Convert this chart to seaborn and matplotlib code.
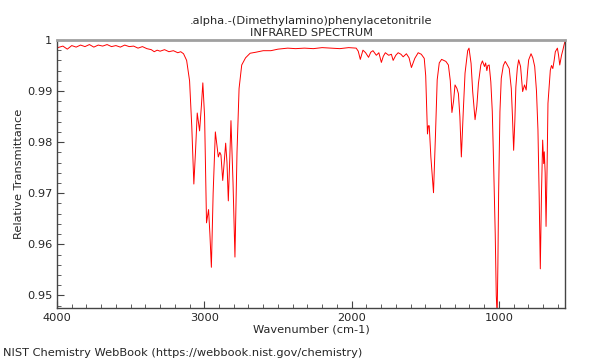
import seaborn as sns
import pandas as pd
import matplotlib.pyplot as plt
from matplotlib.ticker import MultipleLocator, FuncFormatter

sns.set_style("ticks")
plt.rcParams["font.family"] = ["DejaVu Sans"]

# traced spectrum: wavenumber (cm-1) and relative transmittance
wavenumber = [3995, 3960, 3930, 3900, 3870, 3840, 3810, 3780, 3750, 3720, 3690, 3660, 3630, 3600,
              3570, 3540, 3510, 3480, 3450, 3420, 3390, 3360, 3340, 3320, 3300, 3270, 3240, 3210,
              3180, 3160, 3141, 3120, 3100, 3085, 3071, 3060, 3048, 3032, 3020, 3010, 2998, 2985,
              2971, 2962, 2952, 2940, 2925, 2905, 2895, 2887, 2875, 2865, 2855, 2846, 2837, 2828,
              2819, 2805, 2792, 2778, 2764, 2746, 2720, 2689, 2650, 2600, 2548, 2500, 2434, 2380,
              2320, 2260, 2200, 2140, 2080, 2020, 1969, 1955, 1941, 1923, 1905, 1885, 1870, 1855,
              1832, 1815, 1798, 1785, 1771, 1748, 1730, 1718, 1700, 1684, 1665, 1650, 1628, 1610,
              1594, 1571, 1548, 1527, 1507, 1497, 1485, 1479, 1473, 1462, 1444, 1430, 1419, 1405,
              1389, 1375, 1360, 1343, 1330, 1319, 1308, 1298, 1285, 1275, 1265, 1255, 1242, 1230,
              1212, 1203, 1189, 1178, 1162, 1150, 1139, 1123, 1112, 1098, 1090, 1082, 1075, 1066,
              1055, 1045, 1036, 1025, 1018, 1012, 1007, 1002, 993, 984, 970, 957, 945, 930,
              916, 908, 900, 892, 885, 875, 866, 853, 839, 826, 815, 805, 798, 782, 770, 757,
              745, 735, 727, 719, 711, 703, 696, 692, 686, 680, 673, 667, 651, 643, 634, 625,
              617, 603, 595, 587, 575, 566, 558, 549]
transmittance = [0.9985, 0.9988, 0.9982, 0.9989, 0.9986, 0.9990, 0.9987, 0.9991, 0.9986, 0.9990, 0.9988,
                 0.9991, 0.9987, 0.9989, 0.9986, 0.9990, 0.9987, 0.9988, 0.9984, 0.9987, 0.9983,
                 0.9981, 0.9977, 0.9980, 0.9978, 0.9981, 0.9977, 0.9979, 0.9975, 0.9977, 0.9973,
                 0.9960, 0.9920, 0.9830, 0.9718, 0.9780, 0.9857, 0.9822, 0.9870, 0.9916, 0.9850,
                 0.9642, 0.9668, 0.9620, 0.9555, 0.9700, 0.9820, 0.9771, 0.9780, 0.9775, 0.9725,
                 0.9760, 0.9798, 0.9760, 0.9685, 0.9760, 0.9842, 0.9720, 0.9575, 0.9780, 0.9905,
                 0.9951, 0.9965, 0.9974, 0.9976, 0.9979, 0.9979, 0.9982, 0.9984, 0.9983, 0.9984,
                 0.9983, 0.9985, 0.9984, 0.9983, 0.9985, 0.9984, 0.9978, 0.9962, 0.9980, 0.9975,
                 0.9966, 0.9976, 0.9979, 0.9970, 0.9975, 0.9956, 0.9968, 0.9975, 0.9970, 0.9972,
                 0.9960, 0.9970, 0.9975, 0.9972, 0.9967, 0.9973, 0.9965, 0.9946, 0.9964, 0.9975,
                 0.9972, 0.9964, 0.9930, 0.9816, 0.9832, 0.9832, 0.9771, 0.9701, 0.9820, 0.9922,
                 0.9955, 0.9962, 0.9960, 0.9958, 0.9951, 0.9920, 0.9858, 0.9880, 0.9912, 0.9905,
                 0.9895, 0.9850, 0.9771, 0.9860, 0.9935, 0.9979, 0.9984, 0.9954, 0.9899, 0.9844,
                 0.9870, 0.9915, 0.9951, 0.9959, 0.9948, 0.9955, 0.9940, 0.9950, 0.9951, 0.9918,
                 0.9860, 0.9758, 0.9620, 0.9500, 0.9460, 0.9560, 0.9700, 0.9860, 0.9925, 0.9950,
                 0.9958, 0.9952, 0.9944, 0.9905, 0.9850, 0.9784, 0.9840, 0.9908, 0.9945, 0.9961,
                 0.9948, 0.9899, 0.9912, 0.9902, 0.9940, 0.9961, 0.9973, 0.9965, 0.9948, 0.9900,
                 0.9824, 0.9700, 0.9552, 0.9700, 0.9804, 0.9758, 0.9781, 0.9740, 0.9635, 0.9750,
                 0.9876, 0.9941, 0.9950, 0.9944, 0.9960, 0.9977, 0.9984, 0.9970, 0.9951, 0.9970,
                 0.9980, 0.9990, 1.0000]

spectrum = pd.DataFrame({"wavenumber": wavenumber, "transmittance": transmittance})

fig = plt.figure(figsize=(6, 3.6), dpi=100)
ax = fig.add_axes([0.095, 0.144, 0.847, 0.745])
sns.lineplot(x="wavenumber", y="transmittance", data=spectrum, ax=ax,
             color="red", linewidth=0.7, sort=False, estimator=None)

ax.set_xlim(4000, 550)
ax.set_ylim(0.9475, 1.0)
ax.xaxis.set_major_locator(MultipleLocator(1000))
ax.xaxis.set_minor_locator(MultipleLocator(100))
ax.yaxis.set_major_locator(MultipleLocator(0.01))
ax.yaxis.set_minor_locator(MultipleLocator(0.002))
ax.yaxis.set_major_formatter(FuncFormatter(lambda v, p: "%g" % round(v, 3)))
ax.tick_params(which="both", direction="in", labelsize=8.2, color="#444444")
ax.tick_params(which="major", length=5)
ax.tick_params(which="minor", length=3)

for side in ["left", "bottom", "right"]:
    ax.spines[side].set_color("#444444")
    ax.spines[side].set_linewidth(1.0)
ax.spines["top"].set_color("#a0a0a0")
ax.spines["top"].set_linewidth(2.0)

ax.set_xlabel("Wavenumber (cm-1)", fontsize=8.2, labelpad=1)
ax.set_ylabel("Relative Transmittance", fontsize=8.2, labelpad=2)
ax.set_title(".alpha.-(Dimethylamino)phenylacetonitrile\nINFRARED SPECTRUM", fontsize=8.2, pad=3)
fig.text(0.005, 0.01, "NIST Chemistry WebBook (https://webbook.nist.gov/chemistry)", fontsize=8.2)

plt.savefig("out.png")
